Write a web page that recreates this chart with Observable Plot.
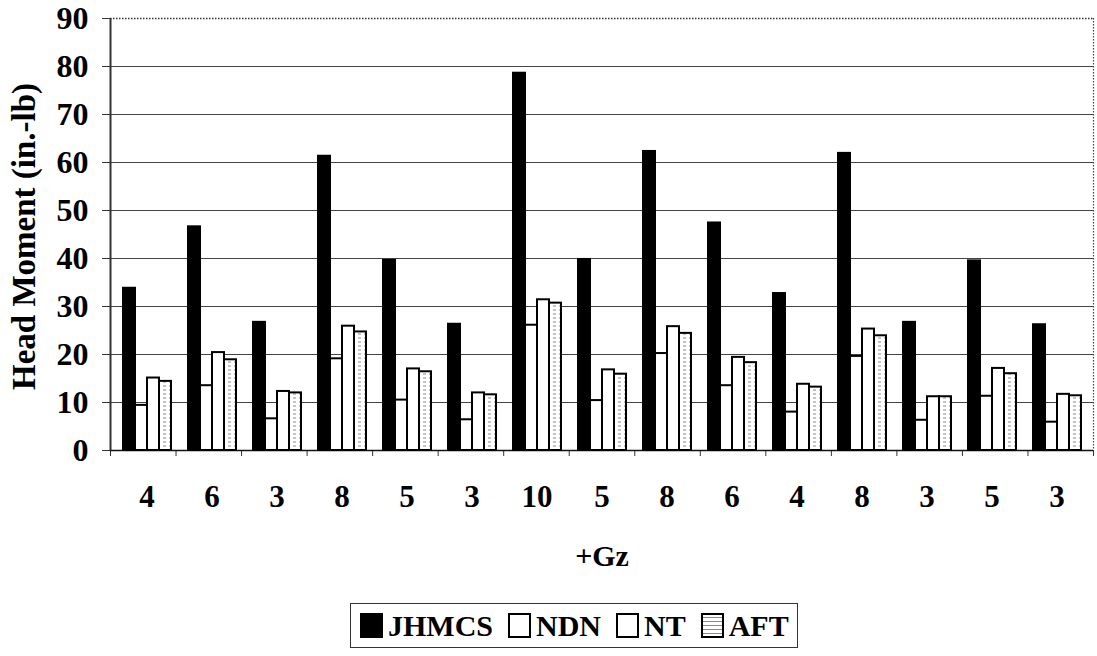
<!DOCTYPE html>
<html>
<head>
<meta charset="utf-8">
<script src="https://cdn.jsdelivr.net/npm/d3@7"></script>
<script src="https://cdn.jsdelivr.net/npm/@observablehq/plot@0.6"></script>
<style>
  html, body { margin: 0; padding: 0; background: white; }
  #wrap { position: relative; width: 1097px; height: 656px; font-family: "Liberation Serif", "DejaVu Serif", serif; }
  #wrap svg { position: absolute; left: 0; top: 0; }
  #wrap svg text { font-weight: bold; fill: black; font-family: "Liberation Serif", "DejaVu Serif", serif; }
  #legend { position: absolute; left: 350px; top: 603px; height: 45px; border: 1px solid #333; display: flex; align-items: center; padding: 0 8px 0 9px; font-weight: bold; font-size: 30px; color: black; box-sizing: border-box; font-family: "Liberation Serif", "DejaVu Serif", serif; }
  #legend .item { display: flex; align-items: center; margin-right: 15px; }
  #legend .item:last-child { margin-right: 0; }
  #legend .sw { width: 19px; height: 21px; border: 2px solid black; margin-right: 5px; box-sizing: content-box; }
</style>
</head>
<body>
<div id="wrap"></div>
<script>
// ---- Data ----
const gz = [4, 6, 3, 8, 5, 3, 10, 5, 8, 6, 4, 8, 3, 5, 3];
const seriesNames = ["JHMCS", "NDN", "NT", "AFT"];
const JHMCS = [33.8, 46.6, 26.7, 61.3, 39.6, 26.3, 78.6, 39.8, 62.3, 47.4, 32.7, 61.9, 26.7, 39.5, 26.2];
const NDN   = [9.4, 13.5, 6.6, 19.1, 10.5, 6.4, 26.1, 10.4, 20.2, 13.5, 8.0, 19.6, 6.3, 11.3, 5.9];
const NT    = [15.1, 20.4, 12.3, 25.9, 17.0, 12.0, 31.4, 16.8, 25.8, 19.4, 13.8, 25.3, 11.2, 17.1, 11.7];
const AFT   = [14.4, 18.9, 12.0, 24.7, 16.4, 11.6, 30.7, 15.9, 24.4, 18.3, 13.2, 23.9, 11.2, 16.0, 11.4];
const yTicks = [0, 10, 20, 30, 40, 50, 60, 70, 80, 90];
const yLabel = "Head Moment (in.-lb)";
const xLabel = "+Gz";

const seriesValues = {JHMCS, NDN, NT, AFT};
const table = [];
gz.forEach((g, i) => seriesNames.forEach(s => table.push({group: i, series: s, value: seriesValues[s][i]})));

const W = 1097, H = 600;
const FONT = '"Liberation Serif", "DejaVu Serif", serif';
const margins = {marginTop: 18, marginBottom: 150, marginLeft: 110, marginRight: 4};
const groupIdx = d3.range(gz.length);
const bounds = d3.range(gz.length + 1);

// ---- Background: axes, grid, boundary ticks ----
const bg = Plot.plot({
  width: W, height: H, ...margins,
  style: {background: "white", fontSize: "32px", fontFamily: FONT, fontWeight: "bold"},
  x: {domain: [0, gz.length], axis: null},
  y: {domain: [0, 90], axis: null},
  marks: [
    Plot.ruleY(yTicks.filter(t => t > 0 && t < 90), {stroke: "#444", strokeWidth: 1.2}),
    Plot.ruleY([90], {stroke: "#333", strokeWidth: 1.5, strokeDasharray: "1.5,1.5"}),
    Plot.ruleX([gz.length], {stroke: "#444", strokeWidth: 1.2, strokeDasharray: "1.5,1.5"}),
    Plot.ruleX([0], {stroke: "#333", strokeWidth: 2}),
    Plot.axisY(yTicks, {tickSize: 8, tickPadding: 14, fontSize: 32, fontWeight: "bold", label: null, stroke: "#333"}),
    Plot.axisX(bounds, {tickSize: 6, tickFormat: () => "", label: null, stroke: "#333"}),
    Plot.ruleY([0], {stroke: "#111", strokeWidth: 1.5}),
    Plot.text([yLabel], {frameAnchor: "left", textAnchor: "middle", dx: -86, dy: 2, rotate: -90, fontSize: 33, fontWeight: "bold"}),
    Plot.text([xLabel], {frameAnchor: "bottom", dy: 115, fontSize: 30, fontWeight: "bold"})
  ]
});

// ---- Foreground: grouped bars ----
const fg = Plot.plot({
  width: W, height: H, ...margins,
  style: {background: "transparent", fontSize: "31px", fontFamily: FONT, fontWeight: "bold"},
  fx: {domain: groupIdx, paddingInner: 0.25, paddingOuter: 0.125, axis: "bottom", tickSize: 0, tickPadding: 34, tickFormat: i => String(gz[i]), label: null},
  x: {domain: seriesNames, padding: 0, axis: null},
  y: {domain: [0, 90], axis: null},
  color: {domain: seriesNames, range: ["black", "white", "white", "url(#aftPattern)"]},
  marks: [
    Plot.barY(table, {fx: "group", x: "series", y: "value", fill: "series", stroke: "black", strokeWidth: 2})
  ]
});

// pattern for AFT
const defs = d3.select(fg).insert("defs", ":first-child");
const pat = defs.append("pattern").attr("id", "aftPattern").attr("patternUnits", "userSpaceOnUse")
  .attr("width", 6).attr("height", 4);
pat.append("rect").attr("width", 6).attr("height", 4).attr("fill", "white");
pat.append("line").attr("x1", 1).attr("x2", 4).attr("y1", 2).attr("y2", 2).attr("stroke", "#8a8a8a").attr("stroke-width", 1);

const wrap = document.getElementById("wrap");
wrap.appendChild(bg);
wrap.appendChild(fg);

// ---- Legend ----
const legend = document.createElement("div");
legend.id = "legend";
const swFill = {JHMCS: "black", NDN: "white", NT: "white", AFT: "white"};
seriesNames.forEach(s => {
  const item = document.createElement("div");
  item.className = "item";
  const sw = document.createElement("div");
  sw.className = "sw";
  sw.style.background = swFill[s];
  if (s === "AFT") {
    sw.style.backgroundImage = "repeating-linear-gradient(to bottom, white 0 2px, #8a8a8a 2px 3px, white 3px 4px)";
    sw.style.backgroundSize = "12px 4px";
  }
  const t = document.createElement("span");
  t.textContent = s;
  item.appendChild(sw);
  item.appendChild(t);
  legend.appendChild(item);
});
wrap.appendChild(legend);
</script>
</body>
</html>
